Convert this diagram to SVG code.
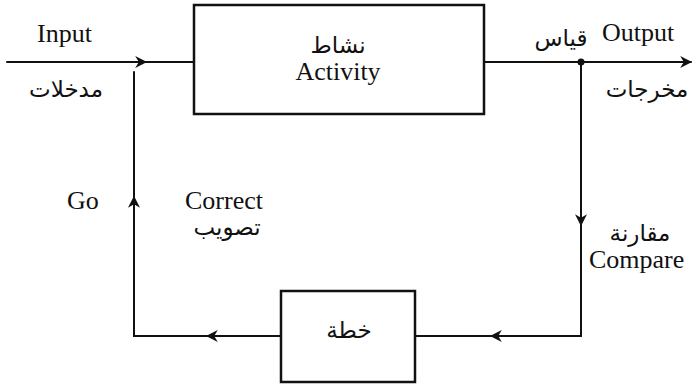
<svg xmlns="http://www.w3.org/2000/svg" width="696" height="384" viewBox="0 0 696 384">
<style>
.ln{fill:none;stroke:#111;stroke-width:2;stroke-linecap:round}
.bx{fill:#fff;stroke:#111;stroke-width:2.5}
.en{font-family:"Liberation Serif",serif;font-size:26px;fill:#111}
.ar{font-family:"DejaVu Sans",sans-serif;font-size:23px;fill:#111}
</style>
<defs>
<marker id="ah2" viewBox="0 0 10 10" refX="9" refY="5" markerWidth="12" markerHeight="12" markerUnits="userSpaceOnUse" orient="auto">
<path d="M0,0 L10,5 L0,10 L3,5 Z" fill="#111"/>
</marker>
</defs>
<g id="connectors">
<path class="ln" d="M7,62 L146,62" marker-end="url(#ah2)"/>
<path class="ln" d="M140,62 L194,62"/>
<path class="ln" d="M484,62 L691,62" marker-end="url(#ah2)"/>
<circle cx="581" cy="62" r="3.5" fill="#111"/>
<path class="ln" d="M581,62 L581,225" marker-end="url(#ah2)"/>
<path class="ln" d="M581,220 L581,336 L491,336" marker-end="url(#ah2)"/>
<path class="ln" d="M496,336 L415,336"/>
<path class="ln" d="M281,336 L207,336" marker-end="url(#ah2)"/>
<path class="ln" d="M212,336 L134,336 L134,197" marker-end="url(#ah2)"/>
<path class="ln" d="M134,202 L134,72"/>
</g>
<g id="activity">
<rect class="bx" x="194" y="5" width="290" height="109"/>
<text class="ar" x="338" y="53" text-anchor="middle">نشاط</text>
<text class="en" x="338" y="80" text-anchor="middle">Activity</text>
</g>
<g id="plan">
<rect class="bx" x="281" y="291" width="134" height="91"/>
<text class="ar" x="349" y="338" text-anchor="middle">خطة</text>
</g>
<g id="labels">
<text class="en" x="37" y="42">Input</text>
<text class="ar" x="66" y="97" text-anchor="middle">مدخلات</text>
<text class="en" x="602" y="41">Output</text>
<text class="ar" x="561" y="46" text-anchor="middle">قياس</text>
<text class="ar" x="647" y="97" text-anchor="middle">مخرجات</text>
<text class="en" x="67" y="209">Go</text>
<text class="en" x="185" y="209">Correct</text>
<text class="ar" x="227" y="235" text-anchor="middle">تصويب</text>
<text class="ar" x="640" y="241" text-anchor="middle">مقارنة</text>
<text class="en" x="589" y="268">Compare</text>
</g>
</svg>
